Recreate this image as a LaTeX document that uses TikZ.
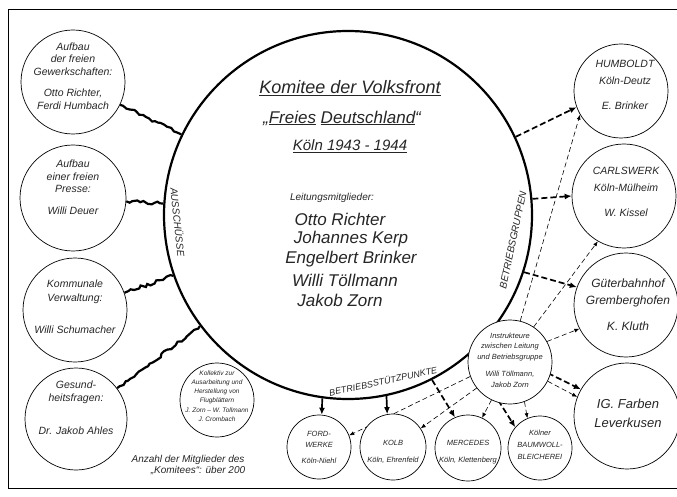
\documentclass[tikz,border=0pt]{standalone}
\usepackage{fontspec}
\setmainfont{Liberation Sans}
\usetikzlibrary{arrows.meta,decorations.pathmorphing,backgrounds}
\newcommand\fsz[2]{\fontsize{#1}{#2}\selectfont\itshape}
\begin{document}
\begin{tikzpicture}[x=1pt,y=-1pt,
  circ/.style={circle,draw,line width=0.7pt,fill=white,inner sep=0pt},
  txt/.style={align=center,inner sep=0pt,text=black!85},
  zz/.style={line width=2.2pt,decorate,decoration={random steps,segment length=3.5pt,amplitude=1.6pt}},
  thk/.style={line width=1.7pt,dash pattern=on 6pt off 3pt,-{Latex[length=7pt,width=6pt]}},
  thn/.style={line width=0.6pt,dash pattern=on 5pt off 3pt,-{Latex[length=5pt,width=4pt]}},
  sol/.style={line width=1.7pt,-{Latex[length=7pt,width=6pt]}}]
\pgfmathsetseed{7}
\clip (0,0) rectangle (677,497);
\draw[line width=0.9pt] (8,9) rectangle (700,488);

% circles
\node[circ,minimum size=368pt,fill=none,line width=2.2pt] (big) at (348,215) {};
\node[circ,minimum size=104pt] (l1) at (73,82) {};
\node[circ,minimum size=106pt] (l2) at (73,198) {};
\node[circ,minimum size=104pt] (l3) at (75,310) {};
\node[circ,minimum size=102pt] (l4) at (76,419) {};
\node[circ,minimum size=74pt] (kol) at (217,400) {};
\node[circ,minimum size=94pt] (hum) at (621,91) {};
\node[circ,minimum size=104pt] (carl) at (624,196) {};
\node[circ,minimum size=104pt] (guet) at (626,305) {};
\node[circ,minimum size=106pt] (ig) at (627,416) {};
\node[circ,minimum size=64pt] (ford) at (319,447) {};
\node[circ,minimum size=66pt] (kolb) at (393,447) {};
\node[circ,minimum size=66pt] (merc) at (468,448) {};
\node[circ,minimum size=64pt] (baum) at (540,448) {};
\node[circ,minimum size=84pt] (ins) at (510,362) {};

% connectors
\begin{pgfonlayer}{background}
\fill[white] (0,0) rectangle (677,497);
\draw[zz] (l1) -- (big);
\draw[zz] (l2) -- (big);
\draw[zz] (l3) -- (big);
\draw[zz] (l4) -- (big);
\draw[thk] (big.25) -- (hum.200);
\draw[thk] (big.5) -- (carl.180);
\draw[thk] (big.-18) -- (guet.160);
\draw[thk] (big.-43) -- (ig.150);
\draw[thk] (big.-49) -- (baum.140);
\draw[thk] (big.-63) -- (merc.113);
\draw[sol] (big.-98) -- (ford.85);
\draw[sol] (big.-78) -- (kolb.100);
\draw[thn] (ins.76) -- (hum.210);
\draw[thn] (ins.56) -- (carl.240);
\draw[thn] (ins.29) -- (guet.207);
\draw[thn] (ins.-27) -- (ig.159);
\draw[thn] (ins.-70) -- (baum.113);
\draw[thn] (ins.244) -- (merc.65);
\draw[thn] (ins.218) -- (kolb.34);
\draw[thn] (ins.200) -- (ford.21);
\end{pgfonlayer}

% big circle texts
\node[txt,font=\fsz{18}{20}] (t1) at (350,88) {\underline{Komitee der Volksfront}};
\node[txt,font=\fsz{17}{19}] (t2) at (342,118) {„\underline{Freies} \underline{Deutschland}“};
\node[txt,font=\fsz{15}{17}] (t3) at (350,146) {\underline{Köln 1943 - 1944}};
\node[txt,font=\fsz{10}{12}] (t4) at (332,198) {Leitungsmitglieder:};
\node[txt,font=\fsz{17}{19}] (n1) at (340,219) {Otto Richter};
\node[txt,font=\fsz{17}{19}] (n2) at (351,239) {Johannes Kerp};
\node[txt,font=\fsz{17}{19}] (n3) at (351,259) {Engelbert Brinker};
\node[txt,font=\fsz{17}{19}] (n4) at (345,280) {Willi Töllmann};
\node[txt,font=\fsz{17}{19}] (n5) at (340,300) {Jakob Zorn};

\node[txt,font=\fsz{10}{10},rotate=-84] (lab1) at (178,222) {AUSSCHÜSSE};
\node[txt,font=\fsz{10}{10},rotate=78] (lab2) at (513,240) {BETRIEBSGRUPPEN};
\node[txt,font=\fsz{9}{9},rotate=12] (lab3) at (383,381) {BETRIEBSSTÜTZPUNKTE};

% left circle texts
\node[txt,font=\fsz{10.5}{12.5}] at (73,76) {Aufbau\\der freien\\Gewerkschaften:\\[9pt]Otto Richter,\\Ferdi Humbach};
\node[txt,font=\fsz{10.5}{12.5}] at (73,187) {Aufbau\\einer freien\\Presse:\\[9pt]Willi Deuer};
\node[txt,font=\fsz{10.5}{14}] at (75,307) {Kommunale\\Verwaltung:\\[18pt]Willi Schumacher};
\node[txt,font=\fsz{10.5}{13}] at (76,408) {Gesund-\\heitsfragen:\\[20pt]Dr. Jakob Ahles};
\node[txt,font=\fsz{6.5}{9.2}] at (217,396) {Kollektiv zur\\Ausarbeitung und\\Herstellung von\\Flugblättern\\J. Zorn – W. Tollmann\\J. Crombach};
\node[txt,font=\fsz{10}{11}] (anz) at (188,465) {Anzahl der Mitglieder des\\\hspace*{20pt}„Komitees“: über 200};

% right circle texts
\node[txt,font=\fsz{10.5}{17}] at (625,85) {HUMBOLDT\\Köln-Deutz\\[8pt]E. Brinker};
\node[txt,font=\fsz{10.5}{17}] at (626,192) {CARLSWERK\\Köln-Mülheim\\[8pt]W. Kissel};
\node[txt,font=\fsz{12}{17}] at (628,305) {Güterbahnhof\\Gremberghofen\\[9pt]K. Kluth};
\node[txt,font=\fsz{13}{19}] at (628,413) {IG. Farben\\Leverkusen};

% bottom circle texts
\node[txt,font=\fsz{7.5}{11}] at (319,447) {FORD-\\WERKE\\[5pt]Köln-Niehl};
\node[txt,font=\fsz{7.5}{11}] at (393,452) {KOLB\\[6pt]Köln, Ehrenfeld};
\node[txt,font=\fsz{7.5}{11}] at (468,452) {MERCEDES\\[6pt]Köln, Klettenberg};
\node[txt,font=\fsz{7.5}{12}] at (540,445) {Kölner\\BAUMWOLL-\\BLEICHEREI};
\node[txt,font=\fsz{7.5}{10.5}] at (510,360) {Instrukteure\\zwischen Leitung\\und Betriebsgruppe\\[7pt]Willi Töllmann,\\Jakob Zorn};
\end{tikzpicture}
\end{document}
